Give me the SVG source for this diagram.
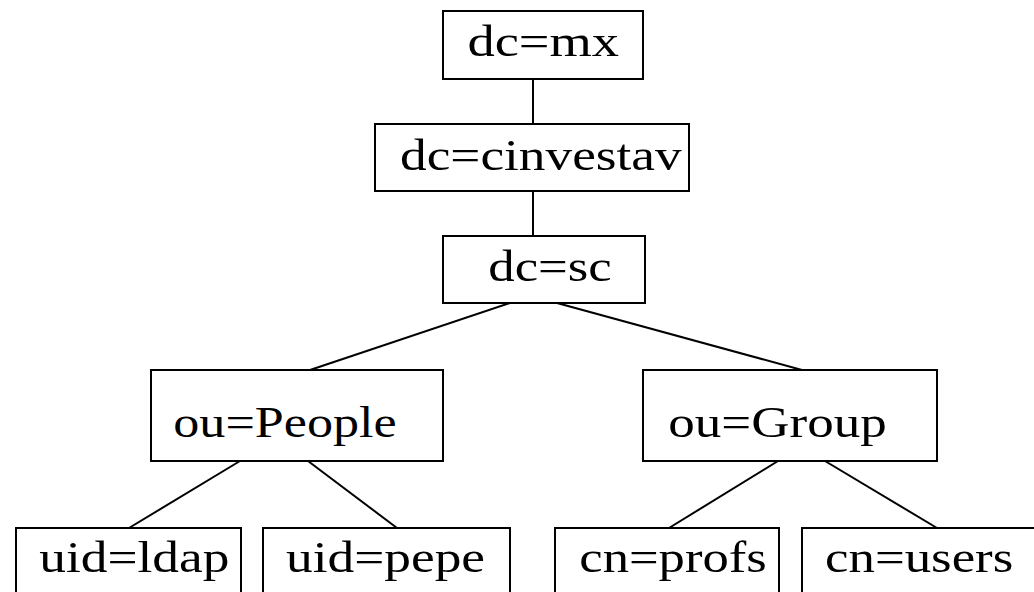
<svg xmlns="http://www.w3.org/2000/svg" width="1034" height="592" viewBox="0 0 1034 592">
<style>
rect{fill:#fff;stroke:#000;stroke-width:2}
line{stroke:#000;stroke-width:2}
text{font-family:"Liberation Serif","Times New Roman",serif;font-size:44px;fill:#000}
</style>
<rect x="0" y="0" width="1034" height="592" style="stroke:none"/>
<g id="connectors">
<line x1="533" y1="79" x2="533" y2="124"/>
<line x1="533" y1="191" x2="533" y2="236"/>
<line x1="510" y1="303" x2="310" y2="370"/>
<line x1="557" y1="303" x2="802" y2="370"/>
<line x1="240" y1="461" x2="129" y2="528"/>
<line x1="308" y1="461" x2="397" y2="528"/>
<line x1="778" y1="461" x2="669" y2="528"/>
<line x1="825" y1="461" x2="937" y2="528"/>
</g>
<g id="dc-mx"><rect x="443" y="11" width="200" height="68"/><text x="467.5" y="55.7" textLength="151.5" lengthAdjust="spacingAndGlyphs">dc=mx</text></g>
<g id="dc-cinvestav"><rect x="375" y="124" width="314" height="67"/><text x="400" y="170" textLength="281.7" lengthAdjust="spacingAndGlyphs">dc=cinvestav</text></g>
<g id="dc-sc"><rect x="443" y="236" width="202" height="67"/><text x="488.3" y="280.7" textLength="123.4" lengthAdjust="spacingAndGlyphs">dc=sc</text></g>
<g id="ou-people"><rect x="151" y="370" width="292" height="91"/><text x="173.3" y="437.3" textLength="223.4" lengthAdjust="spacingAndGlyphs">ou=People</text></g>
<g id="ou-group"><rect x="643" y="370" width="294" height="91"/><text x="668.3" y="437.3" textLength="218.4" lengthAdjust="spacingAndGlyphs">ou=Group</text></g>
<g id="uid-ldap"><rect x="16" y="528" width="225" height="80"/><text x="39.3" y="571.7" textLength="190" lengthAdjust="spacingAndGlyphs">uid=ldap</text></g>
<g id="uid-pepe"><rect x="263" y="528" width="247" height="80"/><text x="286" y="571.7" textLength="199" lengthAdjust="spacingAndGlyphs">uid=pepe</text></g>
<g id="cn-profs"><rect x="555" y="528" width="224" height="80"/><text x="579.3" y="571.7" textLength="187.4" lengthAdjust="spacingAndGlyphs">cn=profs</text></g>
<g id="cn-users"><rect x="802" y="528" width="240" height="80"/><text x="825" y="571.7" textLength="188.3" lengthAdjust="spacingAndGlyphs">cn=users</text></g>
</svg>
